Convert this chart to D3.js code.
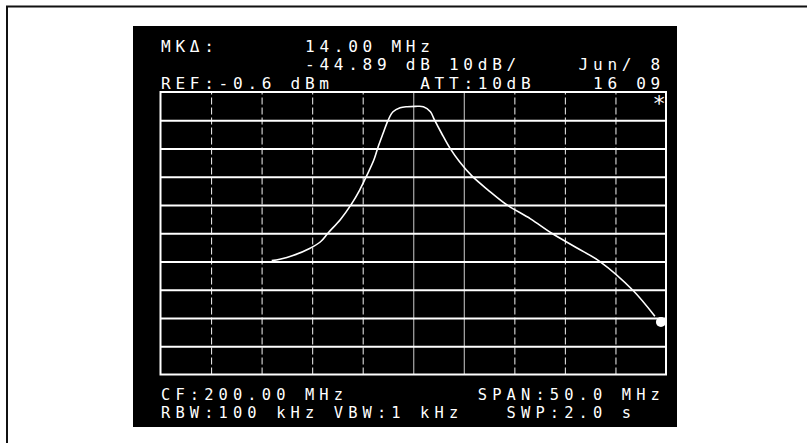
<!DOCTYPE html>
<html>
<head>
<meta charset="utf-8">
<script src="https://cdn.jsdelivr.net/npm/d3@7"></script>
<style>
  html, body { margin: 0; padding: 0; background: #fff; }
  svg { display: block; }
  text { font-family: "DejaVu Sans Mono", monospace; white-space: pre; }
</style>
</head>
<body>
<svg id="chart" width="807" height="443"></svg>
<script>
// ---- data ----
// trace: frequency (MHz) and level (dBm)
const freqMHz = [186.0, 186.8, 188.1, 189.8, 190.8, 191.6, 192.8, 193.9, 194.7, 195.4,
                 196.1, 196.5, 197.0, 197.5, 198.0, 198.7, 199.4, 200.2, 201.0, 201.7,
                 202.1, 202.8, 203.6, 204.6, 205.8, 207.4, 209.2, 211.6, 213.7, 216.2,
                 218.5, 221.7, 223.9];
const levelDbm = [-60.3, -59.8, -58.5, -55.9, -53.7, -50.4, -45.7, -40.2, -35.3, -30.2,
                  -24.7, -20.3, -15.4, -10.7, -7.6, -6.2, -5.8, -5.7, -5.8, -7.6,
                  -10.5, -15.2, -20.3, -25.4, -30.3, -35.3, -40.4, -45.5, -50.6, -55.8,
                  -60.7, -70.7, -80.0];
const markerFreq = [224.5];
const markerLevel = [-82.0];

// grid: 175..225 MHz in 5 MHz steps, ref -0.6 dBm at 10 dB/div
const freqTicks = [175, 180, 185, 190, 195, 200, 205, 210, 215, 220, 225];
const levelTicks = [-0.6, -10.6, -20.6, -30.6, -40.6, -50.6, -60.6, -70.6, -80.6, -90.6, -100.6];
const solidFreqLines = [200, 205];

// on-screen annotation text, placed on the screen's character cells
const topTexts = ["MKΔ:", "14.00 MHz", "-44.89 dB 10dB/", "Jun/ 8", "REF:-0.6 dBm", "ATT:10dB", "16 09"];
const topCols  = [0, 10, 10, 29, 0, 18, 30];
const topRows  = [0, 0, 1, 1, 2, 2, 2];
const bottomTexts = ["CF:200.00 MHz", "SPAN:50.0 MHz", "RBW:100 kHz VBW:1 kHz", "SWP:2.0 s"];
const bottomCols  = [0, 22, 0, 24];
const bottomRows  = [0, 0, 1, 1];
const cornerSymbol = ["*"];

// ---- drawing ----
const svg = d3.select("#chart");

// page frame (scanned edge)
svg.append("line").attr("x1", 6).attr("x2", 807).attr("y1", 6.5).attr("y2", 6.5)
  .attr("stroke", "#111").attr("stroke-width", 2);
svg.append("line").attr("x1", 7).attr("x2", 7).attr("y1", 6).attr("y2", 443)
  .attr("stroke", "#111").attr("stroke-width", 2);

// black screen
svg.append("rect").attr("x", 133).attr("y", 26).attr("width", 544).attr("height", 401)
  .attr("fill", "#000");

const gx0 = 160.5, gx1 = 666, gy0 = 92, gy1 = 374.5;
const x = d3.scaleLinear().domain([175, 225]).range([gx0, gx1]);
const y = d3.scaleLinear().domain([-0.6, -100.6]).range([gy0, gy1]);

// vertical grid lines via axis
const vAxis = svg.append("g").attr("transform", `translate(0,${gy1})`)
  .call(d3.axisBottom(x).tickValues(freqTicks.slice(1, -1)).tickSize(-(gy1 - gy0)).tickFormat(""));
vAxis.select(".domain").remove();
vAxis.selectAll(".tick line")
  .attr("stroke", d => solidFreqLines.includes(d) ? "#bbb" : "#ddd")
  .attr("stroke-width", 1.1)
  .attr("stroke-dasharray", d => solidFreqLines.includes(d) ? null : "7,3");

// horizontal grid lines via axis
const hAxis = svg.append("g").attr("transform", `translate(${gx0},0)`)
  .call(d3.axisLeft(y).tickValues(levelTicks.slice(1, -1)).tickSize(-(gx1 - gx0)).tickFormat(""));
hAxis.select(".domain").remove();
hAxis.selectAll(".tick line").attr("stroke", "#fff").attr("stroke-width", 2);

// grid border
svg.append("rect").attr("x", x(175)).attr("y", y(-0.6))
  .attr("width", x(225) - x(175)).attr("height", y(-100.6) - y(-0.6))
  .attr("fill", "none").attr("stroke", "#fff").attr("stroke-width", 2);

// trace
const pts = freqMHz.map((f, i) => [f, levelDbm[i]]);
svg.append("path").datum(pts)
  .attr("d", d3.line().x(d => x(d[0])).y(d => y(d[1])).curve(d3.curveCatmullRom.alpha(0.5)))
  .attr("fill", "none").attr("stroke", "#fff").attr("stroke-width", 1.6);

// marker dot
svg.selectAll("circle.marker").data(markerFreq).enter().append("circle")
  .attr("class", "marker")
  .attr("cx", d => x(d)).attr("cy", (d, i) => y(markerLevel[i]))
  .attr("r", 5).attr("fill", "#fff");

// text
const colX = c => 161 + c * 14.4;
function drawTexts(texts, cols, rows, baseY, step, size, cls) {
  const ls = 14.4 - 0.602 * size;
  svg.selectAll("text." + cls).data(texts).enter().append("text")
    .attr("class", cls)
    .attr("x", (d, i) => colX(cols[i]))
    .attr("y", (d, i) => baseY + rows[i] * step)
    .attr("font-size", size).attr("letter-spacing", ls)
    .attr("fill", "#fff").text(d => d);
}
drawTexts(topTexts, topCols, topRows, 51.5, 18.8, 16.1, "top");
drawTexts(bottomTexts, bottomCols, bottomRows, 399.5, 18, 15.4, "bottom");

svg.selectAll("text.corner").data(cornerSymbol).enter().append("text")
  .attr("class", "corner")
  .attr("x", 659).attr("y", 111).attr("text-anchor", "middle")
  .attr("font-size", 22).attr("fill", "#fff").text(d => d);
</script>
</body>
</html>
